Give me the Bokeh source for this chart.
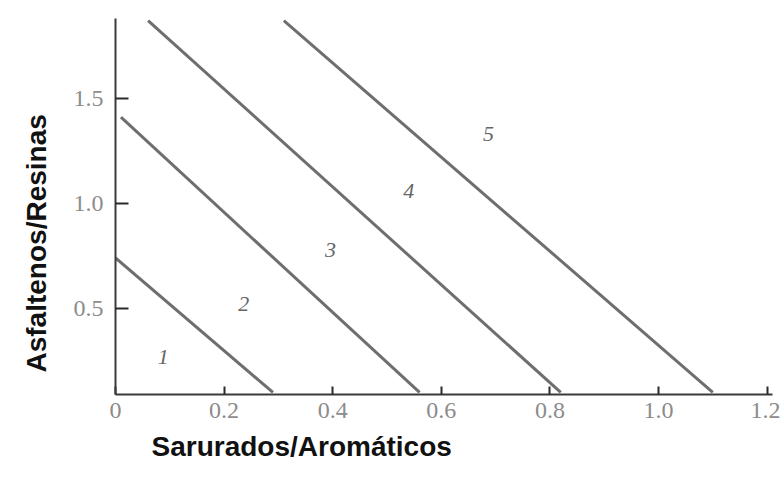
from bokeh.plotting import figure
from bokeh.models import Range1d, FixedTicker, ColumnDataSource, Title
from bokeh.core.properties import value
from bokeh.embed import file_html
from bokeh.resources import INLINE

# ---- data ----
x_ticks = [0, 0.2, 0.4, 0.6, 0.8, 1.0, 1.2]
x_tick_labels = ["0", "0.2", "0.4", "0.6", "0.8", "1.0", "1.2"]
y_ticks = [0.5, 1.0, 1.5]
y_tick_labels = ["0.5", "1.0", "1.5"]

# boundary lines (start / end points)
line_x0 = [0.00, 0.01, 0.06, 0.31]
line_y0 = [0.74, 1.41, 1.87, 1.87]
line_x1 = [0.29, 0.56, 0.82, 1.10]
line_y1 = [0.10, 0.10, 0.10, 0.10]

# region labels
region_names = ["1", "2", "3", "4", "5"]
region_x = [0.088, 0.236, 0.396, 0.54, 0.687]
region_y = [0.27, 0.52, 0.78, 1.06, 1.33]

x_title = "Sarurados/Aromáticos"
y_title = "Asfaltenos/Resinas"

# ---- figure ----
p = figure(width=780, height=478, output_backend="svg", toolbar_location=None,
           x_range=Range1d(0, 1.21), y_range=Range1d(0.09, 1.88),
           min_border_left=115, min_border_right=8, min_border_top=18,
           min_border_bottom=84)
p.outline_line_color = None
p.grid.visible = False
p.background_fill_color = "white"

lines_src = ColumnDataSource(dict(x0=line_x0, y0=line_y0, x1=line_x1, y1=line_y1))
p.segment(x0="x0", y0="y0", x1="x1", y1="y1", source=lines_src,
          line_color="#5e5e5e", line_width=3, line_alpha=0.9)

reg_src = ColumnDataSource(dict(x=region_x, y=region_y, t=region_names))
p.text(x="x", y="y", text="t", source=reg_src, text_align="center",
       text_baseline="middle", text_font=value("Liberation Serif"),
       text_font_size="22px", text_font_style="italic", text_color="#666666")

for ax in (p.xaxis[0], p.yaxis[0]):
    ax.axis_line_color = "#3a3a3a"
    ax.axis_line_width = 2
    ax.major_tick_line_color = "#2a2a2a"
    ax.major_tick_line_width = 2
    ax.major_tick_out = 0
    ax.minor_tick_line_color = None
    ax.major_label_text_font = "Liberation Serif"
    ax.major_label_text_font_size = "24px"
    ax.major_label_text_color = "#8c8c8c"

p.xaxis.ticker = FixedTicker(ticks=x_ticks)
p.xaxis.major_label_overrides = {t: l for t, l in zip(x_ticks, x_tick_labels)}
p.xaxis.major_tick_in = 8
p.xaxis.major_label_standoff = 8

p.yaxis.ticker = FixedTicker(ticks=y_ticks)
p.yaxis.major_label_overrides = {t: l for t, l in zip(y_ticks, y_tick_labels)}
p.yaxis.major_tick_in = 13
p.yaxis.major_label_standoff = 12

p.add_layout(Title(text=x_title, align="left", offset=36, standoff=16,
                   text_font="Liberation Sans", text_font_style="bold",
                   text_font_size="28px", text_color="#111111"), "below")
p.add_layout(Title(text=y_title, align="left", offset=22, standoff=33,
                   vertical_align="top",
                   text_font="Liberation Sans", text_font_style="bold",
                   text_font_size="28px", text_color="#111111"), "left")

open("out.html", "w").write(file_html(p, INLINE))
